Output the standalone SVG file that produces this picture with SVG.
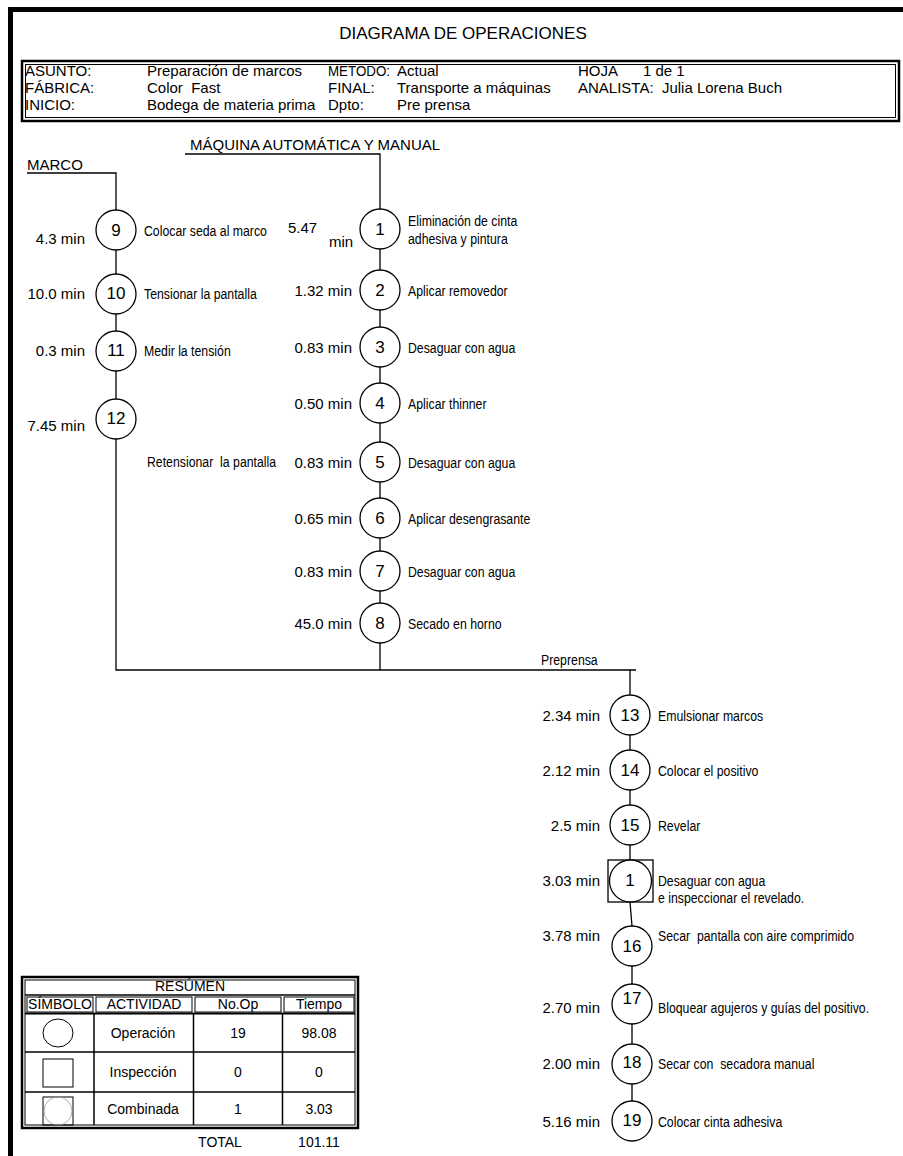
<svg xmlns="http://www.w3.org/2000/svg" width="903" height="1156" viewBox="0 0 903 1156">
  <style>
    .txt { font-family: "Liberation Sans", Arial, sans-serif; font-size: 15px; fill: #000; }
    .title { font-family: "Liberation Sans", Arial, sans-serif; font-size: 17px; fill: #000; }
    /* condensed captions: regular face squeezed horizontally */
    .desc { font-family: "Liberation Sans", Arial, sans-serif; font-size: 15px; fill: #000; }
    .num { font-family: "Liberation Sans", Arial, sans-serif; font-size: 17px; fill: #000; text-anchor: middle; }
    .time { font-family: "Liberation Sans", Arial, sans-serif; font-size: 15px; fill: #000; text-anchor: end; }
    .cell { font-family: "Liberation Sans", Arial, sans-serif; font-size: 14px; fill: #000; text-anchor: middle; }
    .op { fill: #fff; stroke: #000; stroke-width: 1.3; }
    .conn { fill: none; stroke: #000; stroke-width: 1.3; }
    .box { fill: none; stroke: #000; }
  </style>

  <rect width="903" height="1156" fill="#fff"/>

  <!-- page frame: heavy top and left rules -->
  <rect x="8" y="7" width="895" height="5" fill="#000"/>
  <rect x="8" y="7" width="5" height="1149" fill="#000"/>

  <text class="title" x="463" y="39" text-anchor="middle">DIAGRAMA DE OPERACIONES</text>

  <!-- header block -->
  <g id="header">
    <rect class="box" x="22" y="61" width="877" height="60" stroke-width="2.5"/>
    <rect class="box" x="25.5" y="64.5" width="870" height="53" stroke-width="1"/>
    <text class="txt" x="25" y="76">ASUNTO:</text>
    <text class="txt" x="147" y="76">Preparación de marcos</text>
    <text class="txt" x="328" y="76" textLength="62" lengthAdjust="spacingAndGlyphs">METODO:</text>
    <text class="txt" x="397" y="76">Actual</text>
    <text class="txt" x="578" y="76">HOJA</text>
    <text class="txt" x="643" y="76">1 de 1</text>
    <text class="txt" x="25" y="93">FÁBRICA:</text>
    <text class="txt" x="147" y="93" xml:space="preserve">Color  Fast</text>
    <text class="txt" x="328" y="93">FINAL:</text>
    <text class="txt" x="397" y="93">Transporte a máquinas</text>
    <text class="txt" x="578" y="93" xml:space="preserve">ANALISTA:  Julia Lorena Buch</text>
    <text class="txt" x="25" y="110">INICIO:</text>
    <text class="txt" x="147" y="110">Bodega de materia prima</text>
    <text class="txt" x="328" y="110">Dpto:</text>
    <text class="txt" x="397" y="110">Pre prensa</text>
  </g>

  <!-- flow lines -->
  <g id="connectors">
    <path class="conn" d="M27 173 H116 V670 H636"/>
    <path class="conn" d="M185 154 H380 V670"/>
    <path class="conn" d="M630 670 V902 L632 926 V1121"/>
  </g>

  <!-- line labels -->
  <g id="labels">
    <text class="txt" x="27" y="170">MARCO</text>
    <text class="txt" x="190" y="150">MÁQUINA AUTOMÁTICA Y MANUAL</text>
    <text class="desc" transform="translate(541 665) scale(0.82 1)">Preprensa</text>
  </g>

  <!-- MARCO branch -->
  <g id="op9">
    <circle class="op" cx="116" cy="230" r="20"/>
    <text class="num" x="116" y="236">9</text>
    <text class="time" x="85" y="244">4.3 min</text>
    <text class="desc" transform="translate(144 236) scale(0.82 1)">Colocar seda al marco</text>
  </g>
  <g id="op10">
    <circle class="op" cx="116" cy="294" r="20"/>
    <text class="num" x="116" y="299">10</text>
    <text class="time" x="85" y="299">10.0 min</text>
    <text class="desc" transform="translate(144 299) scale(0.82 1)">Tensionar la pantalla</text>
  </g>
  <g id="op11">
    <circle class="op" cx="116" cy="351" r="20"/>
    <text class="num" x="116" y="356">11</text>
    <text class="time" x="85" y="356">0.3 min</text>
    <text class="desc" transform="translate(144 356) scale(0.82 1)">Medir la tensión</text>
  </g>
  <g id="op12">
    <circle class="op" cx="116" cy="419" r="20"/>
    <text class="num" x="116" y="424">12</text>
    <text class="time" x="85" y="431">7.45 min</text>
    <text class="desc" transform="translate(147 467) scale(0.82 1)" xml:space="preserve">Retensionar  la pantalla</text>
  </g>

  <!-- machine branch -->
  <g id="op1">
    <circle class="op" cx="380" cy="229" r="20"/>
    <text class="num" x="380" y="235">1</text>
    <text class="txt" x="288" y="233">5.47</text>
    <text class="txt" x="329" y="247">min</text>
    <text class="desc" transform="translate(408 226) scale(0.82 1)">Eliminación de cinta</text>
    <text class="desc" transform="translate(408 244) scale(0.82 1)">adhesiva y pintura</text>
  </g>
  <g id="op2">
    <circle class="op" cx="380" cy="290" r="20"/>
    <text class="num" x="380" y="296">2</text>
    <text class="time" x="352" y="296">1.32 min</text>
    <text class="desc" transform="translate(408 296) scale(0.82 1)">Aplicar removedor</text>
  </g>
  <g id="op3">
    <circle class="op" cx="380" cy="347" r="20"/>
    <text class="num" x="380" y="353">3</text>
    <text class="time" x="352" y="353">0.83 min</text>
    <text class="desc" transform="translate(408 353) scale(0.82 1)">Desaguar con agua</text>
  </g>
  <g id="op4">
    <circle class="op" cx="380" cy="403" r="20"/>
    <text class="num" x="380" y="409">4</text>
    <text class="time" x="352" y="409">0.50 min</text>
    <text class="desc" transform="translate(408 409) scale(0.82 1)">Aplicar thinner</text>
  </g>
  <g id="op5">
    <circle class="op" cx="380" cy="462" r="20"/>
    <text class="num" x="380" y="468">5</text>
    <text class="time" x="352" y="468">0.83 min</text>
    <text class="desc" transform="translate(408 468) scale(0.82 1)">Desaguar con agua</text>
  </g>
  <g id="op6">
    <circle class="op" cx="380" cy="518" r="20"/>
    <text class="num" x="380" y="524">6</text>
    <text class="time" x="352" y="524">0.65 min</text>
    <text class="desc" transform="translate(408 524) scale(0.82 1)">Aplicar desengrasante</text>
  </g>
  <g id="op7">
    <circle class="op" cx="380" cy="571" r="20"/>
    <text class="num" x="380" y="577">7</text>
    <text class="time" x="352" y="577">0.83 min</text>
    <text class="desc" transform="translate(408 577) scale(0.82 1)">Desaguar con agua</text>
  </g>
  <g id="op8">
    <circle class="op" cx="380" cy="623" r="20"/>
    <text class="num" x="380" y="629">8</text>
    <text class="time" x="352" y="629">45.0 min</text>
    <text class="desc" transform="translate(408 629) scale(0.82 1)">Secado en horno</text>
  </g>

  <!-- prepress branch -->
  <g id="op13">
    <circle class="op" cx="630" cy="715" r="20"/>
    <text class="num" x="630" y="721">13</text>
    <text class="time" x="600" y="721">2.34 min</text>
    <text class="desc" transform="translate(658 721) scale(0.82 1)">Emulsionar marcos</text>
  </g>
  <g id="op14">
    <circle class="op" cx="630" cy="770" r="20"/>
    <text class="num" x="630" y="776">14</text>
    <text class="time" x="600" y="776">2.12 min</text>
    <text class="desc" transform="translate(658 776) scale(0.82 1)">Colocar el positivo</text>
  </g>
  <g id="op15">
    <circle class="op" cx="630" cy="825" r="20"/>
    <text class="num" x="630" y="831">15</text>
    <text class="time" x="600" y="831">2.5 min</text>
    <text class="desc" transform="translate(658 831) scale(0.82 1)">Revelar</text>
  </g>
  <g id="comb1">
    <rect x="608" y="860" width="45" height="42" fill="#fff" stroke="#000" stroke-width="1.3"/>
    <circle class="op" cx="630.5" cy="881" r="21"/>
    <text class="num" x="630" y="886">1</text>
    <text class="time" x="600" y="886">3.03 min</text>
    <text class="desc" transform="translate(658 886) scale(0.82 1)">Desaguar con agua</text>
    <text class="desc" transform="translate(658 903) scale(0.82 1)">e inspeccionar el revelado.</text>
  </g>
  <g id="op16">
    <circle class="op" cx="632" cy="946" r="20"/>
    <text class="num" x="632" y="952">16</text>
    <text class="time" x="600" y="941">3.78 min</text>
    <text class="desc" transform="translate(658 941) scale(0.82 1)" xml:space="preserve">Secar  pantalla con aire comprimido</text>
  </g>
  <g id="op17">
    <circle class="op" cx="632" cy="1004" r="20"/>
    <text class="num" x="632" y="1004">17</text>
    <text class="time" x="600" y="1013">2.70 min</text>
    <text class="desc" transform="translate(658 1013) scale(0.82 1)">Bloquear agujeros y guías del positivo.</text>
  </g>
  <g id="op18">
    <circle class="op" cx="632" cy="1064" r="20"/>
    <text class="num" x="632" y="1068">18</text>
    <text class="time" x="600" y="1069">2.00 min</text>
    <text class="desc" transform="translate(658 1069) scale(0.82 1)" xml:space="preserve">Secar con  secadora manual</text>
  </g>
  <g id="op19">
    <circle class="op" cx="632" cy="1121" r="20"/>
    <text class="num" x="632" y="1126">19</text>
    <text class="time" x="600" y="1127">5.16 min</text>
    <text class="desc" transform="translate(658 1127) scale(0.82 1)">Colocar cinta adhesiva</text>
  </g>

  <!-- summary table -->
  <g id="summary">
    <rect class="box" x="22" y="977" width="336" height="151" stroke-width="2.5"/>
    <rect class="box" x="25" y="980" width="330" height="145" stroke-width="1"/>
    <!-- title row -->
    <line x1="25" y1="995" x2="355" y2="995" stroke="#000" stroke-width="1.5"/>
    <text class="cell" x="190" y="991">RESÚMEN</text>
    <!-- column headings, each boxed -->
    <rect class="box" x="27" y="997" width="66" height="15" stroke-width="1"/>
    <rect class="box" x="96" y="997" width="96" height="15" stroke-width="1"/>
    <rect class="box" x="195" y="997" width="86" height="15" stroke-width="1"/>
    <rect class="box" x="284" y="997" width="70" height="15" stroke-width="1"/>
    <text class="cell" x="60" y="1009" font-size="13">SÍMBOLO</text>
    <text class="cell" x="144" y="1009">ACTIVIDAD</text>
    <text class="cell" x="238" y="1009">No.Op</text>
    <text class="cell" x="319" y="1009">Tiempo</text>
    <!-- body grid -->
    <line x1="25" y1="1013.5" x2="355" y2="1013.5" stroke="#000" stroke-width="2"/>
    <line x1="25" y1="1052" x2="355" y2="1052" stroke="#000" stroke-width="1.5"/>
    <line x1="25" y1="1092" x2="355" y2="1092" stroke="#000" stroke-width="1.5"/>
    <line x1="94" y1="1013" x2="94" y2="1125" stroke="#000" stroke-width="1.5"/>
    <line x1="193.5" y1="1013" x2="193.5" y2="1125" stroke="#000" stroke-width="1.5"/>
    <line x1="282.5" y1="1013" x2="282.5" y2="1125" stroke="#000" stroke-width="1.5"/>
    <!-- symbols -->
    <ellipse cx="58" cy="1033" rx="15" ry="14" fill="none" stroke="#000" stroke-width="1"/>
    <rect x="43" y="1059" width="30" height="28" fill="none" stroke="#000" stroke-width="1"/>
    <rect x="43" y="1097" width="30" height="28" fill="none" stroke="#000" stroke-width="1"/>
    <circle cx="58" cy="1111" r="14" fill="none" stroke="#999" stroke-width="0.8"/>
    <!-- values -->
    <text class="cell" x="143" y="1038">Operación</text>
    <text class="cell" x="238" y="1038">19</text>
    <text class="cell" x="319" y="1038">98.08</text>
    <text class="cell" x="143" y="1077">Inspección</text>
    <text class="cell" x="238" y="1077">0</text>
    <text class="cell" x="319" y="1077">0</text>
    <text class="cell" x="143" y="1114">Combinada</text>
    <text class="cell" x="238" y="1114">1</text>
    <text class="cell" x="319" y="1114">3.03</text>
    <text class="cell" x="220" y="1147">TOTAL</text>
    <text class="cell" x="319" y="1147">101.11</text>
  </g>
</svg>
